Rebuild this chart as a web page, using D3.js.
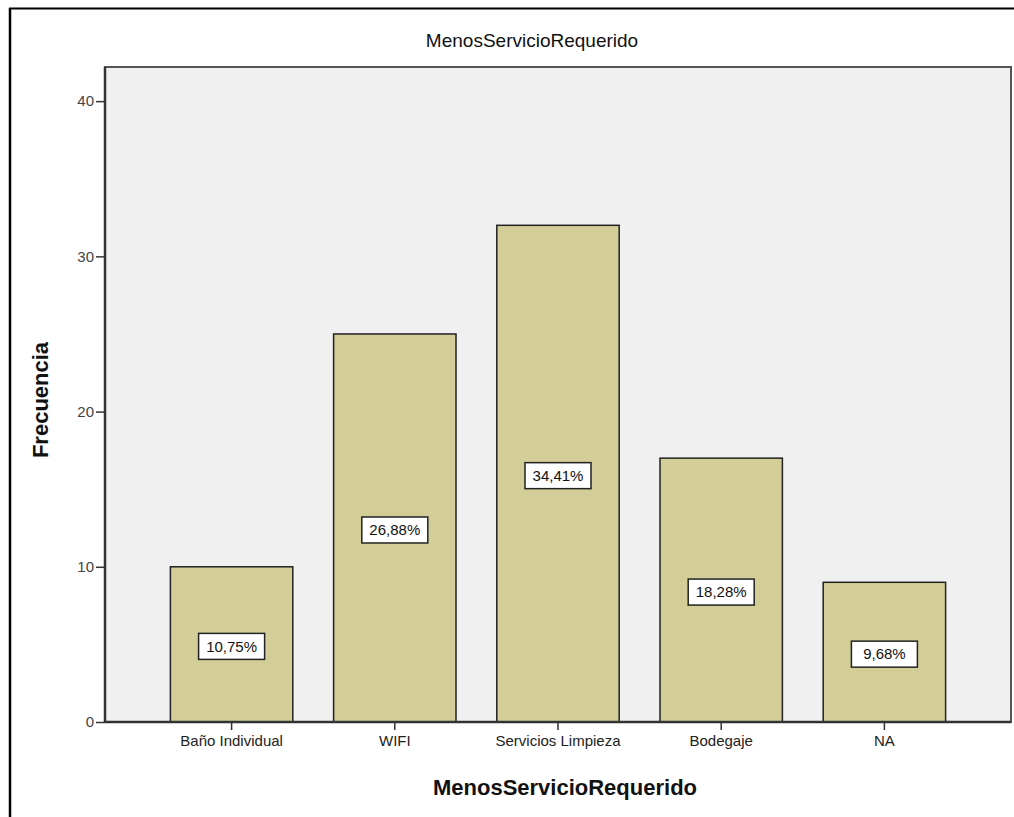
<!DOCTYPE html>
<html><head><meta charset="utf-8">
<script src="https://cdn.jsdelivr.net/npm/d3@7"></script>
<style>body{margin:0;background:#fff}svg{display:block}</style>
</head><body>
<svg id="c" width="1014" height="817"></svg>
<script>
const categories = ["Baño Individual", "WIFI", "Servicios Limpieza", "Bodegaje", "NA"];
const counts = [10, 25, 32, 17, 9];
const percentLabels = ["10,75%", "26,88%", "34,41%", "18,28%", "9,68%"];
const yTicks = [0, 10, 20, 30, 40];

const svg = d3.select("#c");
const font = "Arial, 'Liberation Sans', sans-serif";

// outer frame
svg.append("line").attr("x1", 9).attr("x2", 1014).attr("y1", 8.5).attr("y2", 8.5).attr("stroke", "#000").attr("stroke-width", 2);
svg.append("line").attr("x1", 10).attr("x2", 10).attr("y1", 8).attr("y2", 817).attr("stroke", "#000").attr("stroke-width", 2.5);

const plot = {left: 105, right: 1011, top: 67, bottom: 722};
const y = d3.scaleLinear().domain([0, 42.2]).range([plot.bottom, plot.top]);
const x = d3.scaleBand().domain(categories).range([150, 966]).paddingInner(0.25).paddingOuter(0.125);

svg.append("rect").attr("x", plot.left).attr("y", plot.top)
  .attr("width", plot.right - plot.left).attr("height", plot.bottom - plot.top)
  .attr("fill", "#f0f0f0").attr("stroke", "#555").attr("stroke-width", 2);

// bars
svg.selectAll("rect.bar").data(categories).enter().append("rect")
  .attr("class", "bar")
  .attr("x", d => x(d)).attr("y", (d, i) => y(counts[i]))
  .attr("width", x.bandwidth()).attr("height", (d, i) => y(0) - y(counts[i]))
  .attr("fill", "#d3ce97").attr("stroke", "#222").attr("stroke-width", 1.5);

// labels
const lg = svg.selectAll("g.lbl").data(categories).enter().append("g").attr("class", "lbl")
  .attr("transform", (d, i) => `translate(${x(d) + x.bandwidth() / 2},${(y(counts[i]) + y(0)) / 2 + 2})`);
lg.append("rect").attr("x", -33).attr("y", -13).attr("width", 66).attr("height", 26)
  .attr("fill", "#fff").attr("stroke", "#222").attr("stroke-width", 1.5);
lg.append("text").attr("text-anchor", "middle").attr("dy", "0.35em")
  .attr("font-family", font).attr("font-size", 15).attr("fill", "#111")
  .text((d, i) => percentLabels[i]);

// y axis
const yAxis = svg.append("g").attr("transform", `translate(${plot.left},0)`)
  .call(d3.axisLeft(y).tickValues(yTicks).tickSize(9).tickPadding(2));
yAxis.select(".domain").attr("stroke", "#333").attr("stroke-width", 2.5).attr("d", `M0,${plot.top}V${plot.bottom}`);
yAxis.selectAll(".tick line").attr("stroke", "#333").attr("stroke-width", 1.5);
yAxis.selectAll(".tick text").attr("font-family", font).attr("font-size", 15).attr("fill", "#444");

// x axis
const xAxis = svg.append("g").attr("transform", `translate(0,${plot.bottom})`)
  .call(d3.axisBottom(x).tickSize(8).tickPadding(5));
xAxis.select(".domain").attr("stroke", "#333").attr("stroke-width", 2.5).attr("d", `M${plot.left},0H${plot.right}`);
xAxis.selectAll(".tick line").attr("stroke", "#333").attr("stroke-width", 1.5);
xAxis.selectAll(".tick text").attr("font-family", font).attr("font-size", 15).attr("fill", "#222");

// titles
svg.append("text").attr("x", 532).attr("y", 47).attr("text-anchor", "middle")
  .attr("font-family", font).attr("font-size", 19).attr("fill", "#111").text("MenosServicioRequerido");
svg.append("text").attr("x", 565).attr("y", 795).attr("text-anchor", "middle")
  .attr("font-family", font).attr("font-size", 22).attr("font-weight", "bold").attr("fill", "#111").text("MenosServicioRequerido");
svg.append("text").attr("transform", "translate(48,400) rotate(-90)").attr("text-anchor", "middle")
  .attr("font-family", font).attr("font-size", 22).attr("font-weight", "bold").attr("fill", "#111").text("Frecuencia");
</script>
</body></html>
